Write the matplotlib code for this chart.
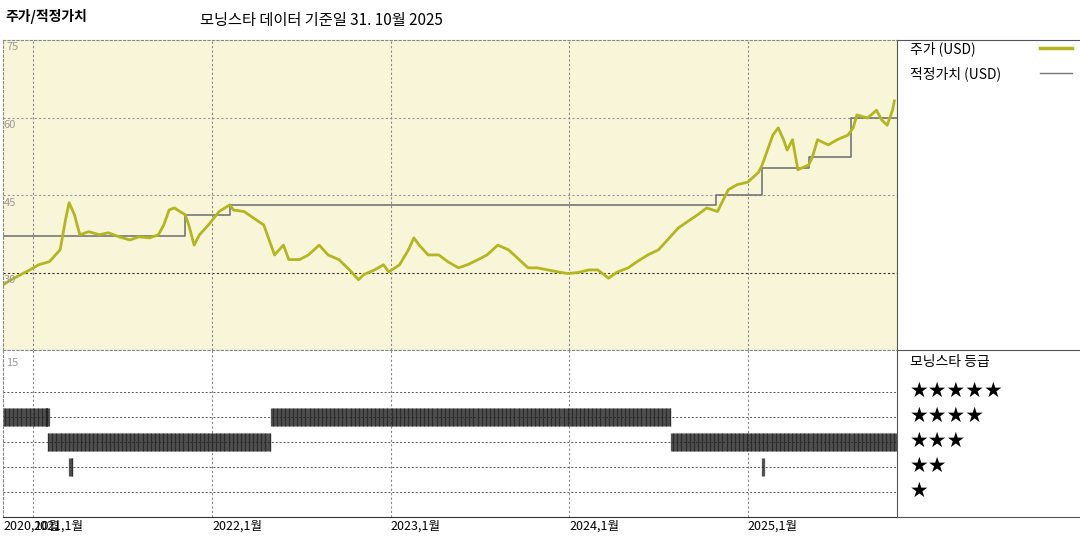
import matplotlib
matplotlib.use("Agg")
import matplotlib.pyplot as plt
from matplotlib.lines import Line2D
import numpy as np

plt.rcParams['font.family'] = ['Noto Sans CJK KR', 'DejaVu Sans']

# price (decimal year, USD)
price_x = [2020.83,2020.87,2020.93,2020.98,2021.03,2021.09,2021.15,2021.18,2021.20,2021.23,2021.26,2021.31,2021.37,2021.42,2021.48,2021.54,2021.59,2021.65,2021.70,2021.73,2021.76,2021.79,2021.82,2021.85,2021.87,2021.90,2021.93,2021.98,2022.04,2022.10,2022.12,2022.18,2022.23,2022.29,2022.32,2022.35,2022.40,2022.43,2022.49,2022.54,2022.60,2022.65,2022.71,2022.77,2022.82,2022.85,2022.91,2022.96,2022.99,2023.05,2023.10,2023.13,2023.16,2023.21,2023.27,2023.32,2023.38,2023.43,2023.49,2023.54,2023.60,2023.66,2023.71,2023.77,2023.82,2023.88,2023.94,2023.99,2024.05,2024.11,2024.16,2024.22,2024.27,2024.33,2024.38,2024.44,2024.50,2024.55,2024.61,2024.66,2024.72,2024.77,2024.83,2024.89,2024.94,2025.00,2025.06,2025.08,2025.11,2025.14,2025.17,2025.20,2025.22,2025.25,2025.28,2025.34,2025.36,2025.39,2025.45,2025.50,2025.56,2025.59,2025.61,2025.67,2025.72,2025.75,2025.78,2025.81,2025.82]
price_y = [27.6,28.5,29.6,30.5,31.5,32.1,34.4,40.2,43.5,41.2,37.3,37.9,37.3,37.7,36.9,36.3,36.9,36.7,37.3,39.2,42.1,42.5,41.8,41.2,39.2,35.3,37.3,39.2,41.8,43.1,42.1,41.8,40.6,39.2,36.3,33.4,35.3,32.5,32.5,33.4,35.3,33.4,32.5,30.5,28.6,29.6,30.5,31.5,30.1,31.5,34.4,36.7,35.3,33.4,33.4,32.1,30.9,31.5,32.5,33.4,35.3,34.4,32.8,30.9,30.9,30.5,30.1,29.8,30.0,30.5,30.5,28.9,30.1,30.9,32.1,33.4,34.4,36.3,38.6,39.8,41.2,42.5,41.8,46.0,47.0,47.5,49.4,50.8,53.7,56.6,58.0,55.7,53.7,55.7,49.9,50.8,52.2,55.7,54.7,55.7,56.6,58.0,60.5,59.9,61.4,59.5,58.5,61.4,63.2]

# fair value steps (start decimal year, value)
fv_x = [2020.83,2021.85,2022.10,2024.82,2025.08,2025.34,2025.58,2025.835]
fv_y = [37.1,41.1,43.1,45.0,50.2,52.4,60.0,60.0]

# Morningstar star rating periods (start, end, stars)
rating_start = [2020.83,2021.07,2021.08,2021.20,2022.33,2024.57,2025.08]
rating_end   = [2021.08,2021.09,2022.33,2021.22,2024.57,2025.835,2025.09]
rating_stars = [4,4,3,2,4,3,2]

xticks = [2020.83,2021.0,2022.0,2023.0,2024.0,2025.0]
xticklabels = ["2020,10월","2021,1월","2022,1월","2023,1월","2024,1월","2025,1월"]

W, H = 1080, 540
fig = plt.figure(figsize=(10.8,5.4), dpi=100)
L, R = 3/W, 897/W
ax = fig.add_axes([L, 1-350/H, R-L, (350-40)/H])
ax2 = fig.add_axes([L, 1-517/H, R-L, (517-350)/H])
xmin, xmax = 2020.83, 2025.835
olive = '#b3b61e'

ax.set_facecolor('#f8f5d9')
ax.set_xlim(xmin, xmax); ax.set_ylim(15, 75)
for v, c in [(60,'#999999'),(45,'#999999'),(30,'#333333')]:
    ax.axhline(v, color=c, ls=(0,(2,2)), lw=0.8)
for t in xticks[1:]:
    ax.axvline(t, color='#888888', ls=(0,(2,2)), lw=0.8)
    ax2.axvline(t, color='#888888', ls=(0,(2,2)), lw=0.8)
ax.step(fv_x, fv_y, where='post', color='#777777', lw=1.2)
ax.plot(price_x, price_y, color=olive, lw=2)
ax.set_xticks([]); ax.set_yticks([])
for s in ax.spines.values(): s.set_color('#888888'); s.set_linestyle((0,(2,2))); s.set_linewidth(0.8)
ax.spines['right'].set_linestyle('-'); ax.spines['right'].set_color('#555555')
ax.text(0.004, 0.995, '75', transform=ax.transAxes, va='top', fontsize=8, color='#999999')
for v in [60,45,30]:
    ax.text(xmin+0.004, v-0.5, str(v), va='top', fontsize=8, color='#999999')

ax2.set_xlim(xmin, xmax); ax2.set_ylim(0, 6.68)
for r in [1,2,3,4,5]:
    ax2.axhline(r, color='#555555', ls=(0,(2,2)), lw=0.7)
for s0, s1, st in zip(rating_start, rating_end, rating_stars):
    xs = np.arange(s0, s1, 0.0045)
    ax2.vlines(xs, st-0.35, st+0.35, color='#222222', lw=0.9, alpha=0.75)
ax2.set_yticks([])
ax2.set_xticks(xticks)
ax2.set_xticklabels(xticklabels, fontsize=9, ha='left')
ax2.tick_params(length=0, pad=2)
for s in ax2.spines.values(): s.set_color('#888888'); s.set_linestyle((0,(2,2))); s.set_linewidth(0.8)
ax2.spines['bottom'].set_linestyle('-'); ax2.spines['bottom'].set_color('#333333')
ax2.spines['right'].set_linestyle('-'); ax2.spines['right'].set_color('#555555')
ax2.text(0.004, 0.95, '15', transform=ax2.transAxes, va='top', fontsize=8, color='#999999')

for py in [40, 350, 517]:
    fig.add_artist(Line2D([897/W, 1], [1-py/H]*2, color='#555555', lw=0.8))

fig.text(5/W, 1-17/H, '주가/적정가치', fontsize=10, fontweight='bold', va='center')
fig.text(200/W, 1-20/H, '모닝스타 데이터 기준일 31. 10월 2025', fontsize=11, va='center')
fig.text(910/W, 1-49/H, '주가 (USD)', fontsize=10, va='center')
fig.add_artist(Line2D([1040/W, 1072/W], [1-48/H]*2, color=olive, lw=2.5))
fig.text(910/W, 1-74/H, '적정가치 (USD)', fontsize=10, va='center')
fig.add_artist(Line2D([1040/W, 1072/W], [1-73/H]*2, color='#777777', lw=1))
fig.text(910/W, 1-362/H, '모닝스타 등급', fontsize=10, va='center')
for i, n in enumerate([5,4,3,2,1]):
    fig.text(910/W, 1-(391+25*i)/H, '★'*n, fontsize=15, va='center', family=['DejaVu Sans'])

fig.savefig('out.png', dpi=100)
